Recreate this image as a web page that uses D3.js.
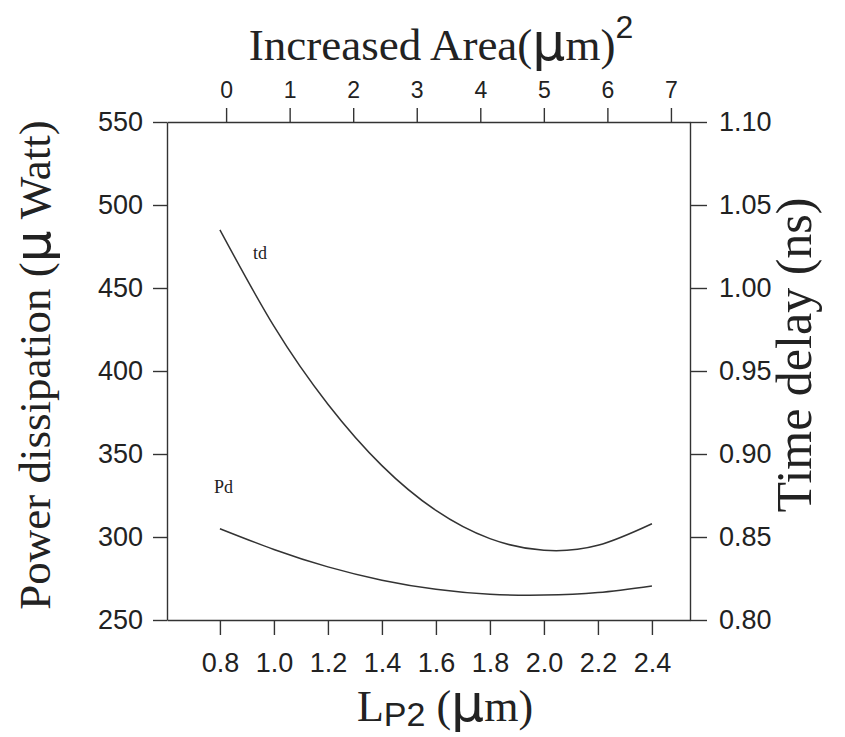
<!DOCTYPE html>
<html>
<head>
<meta charset="utf-8">
<script src="https://cdn.jsdelivr.net/npm/d3@7"></script>
<style>
  body { margin: 0; background: #fff; }
  svg { display: block; }
  .tick text { font-family: "Liberation Sans", Arial, sans-serif; fill: #222; }
  .axis path, .axis line { stroke: #333; stroke-width: 1.4; }
  .title { font-family: "Liberation Serif", "Times New Roman", serif; fill: #222; }
</style>
</head>
<body>
<div id="chart"></div>
<script>
// L_P2 values (um) where the curves were read
const lp2 = [0.8, 1.0, 1.2, 1.4, 1.6, 1.8, 2.0, 2.2, 2.4];
// time delay td (ns), right axis
const tdValues = [1.035, 0.977, 0.930, 0.893, 0.866, 0.849, 0.842, 0.845, 0.858];
// power dissipation Pd (uW), left axis
const pdValues = [305, 292.5, 282, 274, 268.5, 265.5, 265, 266.5, 270.5];

const bottomTicks = [0.8, 1.0, 1.2, 1.4, 1.6, 1.8, 2.0, 2.2, 2.4];
const topTicks = [0, 1, 2, 3, 4, 5, 6, 7];
const leftTicks = [250, 300, 350, 400, 450, 500, 550];
const rightTicks = [0.80, 0.85, 0.90, 0.95, 1.00, 1.05, 1.10];

const width = 845, height = 737;
const plot = { left: 167, right: 690, top: 122, bottom: 620 };

const svg = d3.select("#chart").append("svg")
    .attr("width", width)
    .attr("height", height);

// scales
const x = d3.scaleLinear().domain([0.604, 2.541]).range([plot.left, plot.right]);
const xTop = d3.scaleLinear().domain([-0.93, 7.3]).range([plot.left, plot.right]);
const yLeft = d3.scaleLinear().domain([250, 550]).range([plot.bottom, plot.top]);
const yRight = d3.scaleLinear().domain([0.80, 1.10]).range([plot.bottom, plot.top]);

// axes
svg.append("g")
    .attr("class", "axis")
    .attr("transform", `translate(0,${plot.bottom})`)
    .call(d3.axisBottom(x).tickValues(bottomTicks).tickFormat(d3.format(".1f"))
      .tickSize(15).tickSizeOuter(0).tickPadding(18))
    .call(g => g.selectAll("text").style("font-size", "27px"));

svg.append("g")
    .attr("class", "axis")
    .attr("transform", `translate(0,${plot.top})`)
    .call(d3.axisTop(xTop).tickValues(topTicks).tickFormat(d3.format("d"))
      .tickSize(14).tickSizeOuter(0).tickPadding(10))
    .call(g => g.selectAll("text").style("font-size", "23px"));

svg.append("g")
    .attr("class", "axis")
    .attr("transform", `translate(${plot.left},0)`)
    .call(d3.axisLeft(yLeft).tickValues(leftTicks)
      .tickSize(14).tickSizeOuter(0).tickPadding(10))
    .call(g => g.selectAll("text").style("font-size", "27px"));

svg.append("g")
    .attr("class", "axis")
    .attr("transform", `translate(${plot.right},0)`)
    .call(d3.axisRight(yRight).tickValues(rightTicks).tickFormat(d3.format(".2f"))
      .tickSize(17).tickSizeOuter(0).tickPadding(12))
    .call(g => g.selectAll("text").style("font-size", "27px"));

// curves
const tdLine = d3.line()
    .x((d, i) => x(lp2[i]))
    .y(d => yRight(d))
    .curve(d3.curveNatural);

const pdLine = d3.line()
    .x((d, i) => x(lp2[i]))
    .y(d => yLeft(d))
    .curve(d3.curveNatural);

svg.append("path")
    .attr("d", tdLine(tdValues))
    .attr("fill", "none")
    .attr("stroke", "#333")
    .attr("stroke-width", 1.5);

svg.append("path")
    .attr("d", pdLine(pdValues))
    .attr("fill", "none")
    .attr("stroke", "#333")
    .attr("stroke-width", 1.5);

// curve labels
svg.append("text")
    .attr("class", "title")
    .attr("x", 253).attr("y", 259)
    .style("font-size", "18px")
    .text("td");

svg.append("text")
    .attr("class", "title")
    .attr("x", 214).attr("y", 493)
    .style("font-size", "18px")
    .text("Pd");

// axis titles
const topTitle = svg.append("text")
    .attr("class", "title")
    .attr("x", 441).attr("y", 60)
    .attr("text-anchor", "middle")
    .style("font-size", "45px");
topTitle.append("tspan").text("Increased Area(");
topTitle.append("tspan").style("font-family", "'DejaVu Sans', sans-serif").style("font-size", "52px").text("μ");
topTitle.append("tspan").text("m)");
topTitle.append("tspan").attr("dy", -22).style("font-family", "'Liberation Sans', sans-serif").style("font-size", "32px").text("2");

const bottomTitle = svg.append("text")
    .attr("class", "title")
    .attr("x", 445).attr("y", 721)
    .attr("text-anchor", "middle")
    .style("font-size", "44px");
bottomTitle.append("tspan").text("L");
bottomTitle.append("tspan").attr("dy", 5).style("font-family", "'Liberation Sans', sans-serif").style("font-size", "34px").text("P2");
bottomTitle.append("tspan").attr("dy", -5).text(" (");
bottomTitle.append("tspan").style("font-family", "'DejaVu Sans', sans-serif").style("font-size", "52px").text("μ");
bottomTitle.append("tspan").text("m)");

const leftTitle = svg.append("text")
    .attr("class", "title")
    .attr("transform", "translate(50,365) rotate(-90)")
    .attr("text-anchor", "middle")
    .style("font-size", "45px");
leftTitle.append("tspan").text("Power dissipation (");
leftTitle.append("tspan").style("font-family", "'DejaVu Sans', sans-serif").style("font-size", "50px").text("μ");
leftTitle.append("tspan").text(" Watt)");

svg.append("text")
    .attr("class", "title")
    .attr("transform", "translate(811,355) rotate(-90)")
    .attr("text-anchor", "middle")
    .style("font-size", "50px")
    .text("Time delay (ns)");
</script>
</body>
</html>
